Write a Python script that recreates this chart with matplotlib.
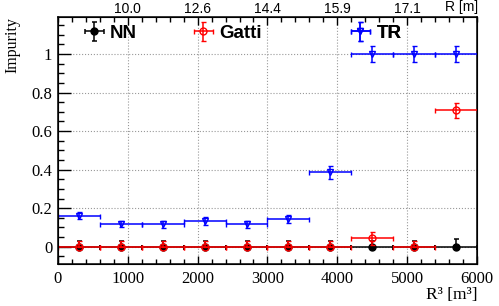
import numpy as np
import matplotlib
matplotlib.use('Agg')
import matplotlib.pyplot as plt
from matplotlib.ticker import MultipleLocator

# bins in R^3 [m^3]
bin_centers = [300, 900, 1500, 2100, 2700, 3300, 3900, 4500, 5100, 5700]
bin_halfwidth = [300] * 10

# impurity per bin
nn_val = [0, 0, 0, 0, 0, 0, 0, 0, 0, 0]
nn_err_lo = [0, 0, 0, 0, 0, 0, 0, 0, 0, 0]
nn_err_hi = [0.03, 0.03, 0.03, 0.03, 0.03, 0.03, 0.03, 0.03, 0.03, 0.04]

gatti_val = [0, 0, 0, 0, 0, 0, 0, 0.044, 0, 0.708]
gatti_err_lo = [0, 0, 0, 0, 0, 0, 0, 0.035, 0, 0.04]
gatti_err_hi = [0.03, 0.03, 0.03, 0.03, 0.03, 0.03, 0.03, 0.035, 0.03, 0.04]

tr_val = [0.161, 0.119, 0.116, 0.135, 0.116, 0.144, 0.386, 1.0, 1.0, 1.0]
tr_err = [0.019, 0.017, 0.018, 0.02, 0.018, 0.022, 0.035, 0.04, 0.04, 0.04]

# top axis: R [m] at R^3 = 1000 ... 5000
top_ticks = [1000, 2000, 3000, 4000, 5000]
top_labels = ['10.0', '12.6', '14.4', '15.9', '17.1']

serif = 'Liberation Serif'
sans = 'Liberation Sans'

fig = plt.figure(figsize=(4.99, 3.06), dpi=100)
ax = fig.add_axes([0.116, 0.137, 0.84, 0.806])

ax.grid(True, ls=':', color='#999999', lw=0.8, zorder=0)

lw = 1.1
h_nn = ax.errorbar(bin_centers, nn_val, xerr=bin_halfwidth, yerr=[nn_err_lo, nn_err_hi],
                   fmt='o', color='black', ms=5, lw=lw, capsize=1.8, capthick=lw, zorder=3)
h_gatti = ax.errorbar(bin_centers, gatti_val, xerr=bin_halfwidth, yerr=[gatti_err_lo, gatti_err_hi],
                      fmt='o', color='red', mfc='none', mec='red', mew=1.0, ms=5, lw=lw,
                      capsize=1.8, capthick=lw, zorder=4)
h_tr = ax.errorbar(bin_centers, tr_val, xerr=bin_halfwidth, yerr=tr_err,
                   fmt='v', color='blue', mfc='none', mec='blue', mew=1.0, ms=4.5, lw=lw,
                   capsize=1.8, capthick=lw, zorder=5)

ax.set_xlim(0, 6000)
ax.set_ylim(-0.09, 1.19)
ax.xaxis.set_major_locator(MultipleLocator(1000))
ax.xaxis.set_minor_locator(MultipleLocator(200))
ax.set_yticks([0, 0.2, 0.4, 0.6, 0.8, 1.0])
ax.set_yticklabels(['0', '0.2', '0.4', '0.6', '0.8', '1'])
ax.yaxis.set_minor_locator(MultipleLocator(0.05))
ax.tick_params(axis='both', which='both', direction='in', top=False, right=False,
               labelsize=12, width=1.0)
ax.tick_params(axis='x', which='major', length=5.5, pad=5)
ax.tick_params(axis='x', which='minor', length=3.4)
ax.tick_params(axis='y', which='major', length=9, pad=4)
ax.tick_params(axis='y', which='minor', length=4.3)
for lab in ax.get_xticklabels() + ax.get_yticklabels():
    lab.set_fontfamily(serif)
for sp in ax.spines.values():
    sp.set_linewidth(1.1)

ax.set_ylabel('Impurity', family=serif, fontsize=11.5, loc='top', labelpad=8)
ax.set_xlabel('R³ [m³]', family=serif, fontsize=12.5, loc='right', labelpad=0)

ax2 = ax.twiny()
ax2.set_xlim(0, 6000)
ax2.set_xticks(top_ticks)
ax2.set_xticklabels(top_labels, family=sans)
ax2.xaxis.set_minor_locator(MultipleLocator(200))
ax2.tick_params(axis='x', which='both', direction='in', labelsize=10, width=1.0, pad=1)
ax2.tick_params(axis='x', which='major', length=5.5)
ax2.tick_params(axis='x', which='minor', length=3.4)
fig.text(0.958, 0.999, 'R [m]', family=sans, fontsize=10, ha='right', va='top')

# legend entries, placed like the original
leg_font = {'family': sans, 'weight': 'bold', 'size': 13.5}
for h, name, x0 in [(h_nn, 'NN', 0.06), (h_gatti, 'Gatti', 0.32), (h_tr, 'TR', 0.695)]:
    leg = ax.legend([h], [name], loc='center left', bbox_to_anchor=(x0, 0.936),
                    frameon=False, prop=leg_font, borderpad=0, borderaxespad=0,
                    handlelength=1.2, handletextpad=0.25)
    ax.add_artist(leg)

fig.savefig('out.png', dpi=100)
